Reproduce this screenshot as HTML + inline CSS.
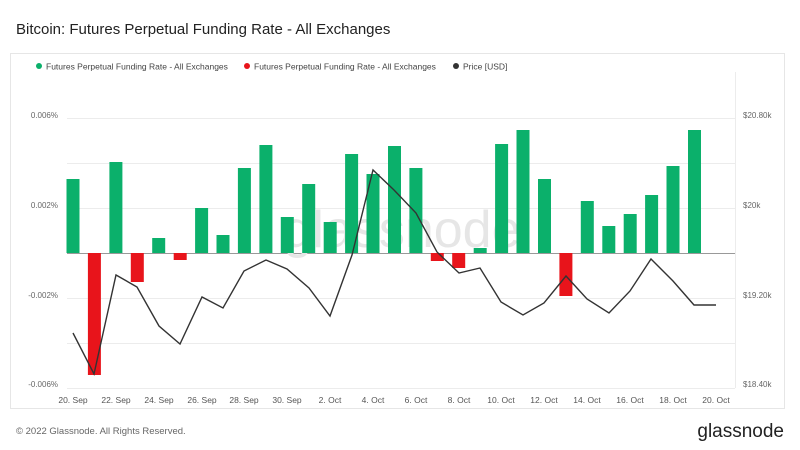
<!DOCTYPE html>
<html><head><meta charset="utf-8"><style>
body{margin:0;background:#fff;font-family:"Liberation Sans",sans-serif;}
</style></head><body>
<svg width="800" height="450" xmlns="http://www.w3.org/2000/svg" font-family="Liberation Sans, sans-serif" style="display:block">
<rect width="800" height="450" fill="#fff"/>
<text x="16" y="34" font-size="15" fill="#222">Bitcoin: Futures Perpetual Funding Rate - All Exchanges</text>
<rect x="10.5" y="53.5" width="774" height="355" fill="#fff" stroke="#e6e6e6"/>
<circle cx="39" cy="66" r="3" fill="#0bb06b"/><text x="46" y="69.5" font-size="8.5" fill="#444">Futures Perpetual Funding Rate - All Exchanges</text>
<circle cx="247" cy="66" r="3" fill="#e8141b"/><text x="254" y="69.5" font-size="8.5" fill="#444">Futures Perpetual Funding Rate - All Exchanges</text>
<circle cx="456" cy="66" r="3" fill="#333"/><text x="463" y="69.5" font-size="8.5" fill="#444">Price [USD]</text>
<g stroke="#ececec" stroke-width="1">
<line x1="67" y1="118.5" x2="735" y2="118.5"/><line x1="67" y1="163.5" x2="735" y2="163.5"/>
<line x1="67" y1="208.5" x2="735" y2="208.5"/><line x1="67" y1="298.5" x2="735" y2="298.5"/>
<line x1="67" y1="343.5" x2="735" y2="343.5"/><line x1="67" y1="388.5" x2="735" y2="388.5"/>
<line x1="735.5" y1="72" x2="735.5" y2="388"/>
</g>
<line x1="67" y1="253.5" x2="735" y2="253.5" stroke="#999"/>
<text x="402" y="247" font-size="52" fill="#e6e6e6" text-anchor="middle">glassnode</text>
<g font-size="8" fill="#666">
<text x="58" y="118" text-anchor="end">0.006%</text>
<text x="58" y="208" text-anchor="end">0.002%</text>
<text x="58" y="298" text-anchor="end">-0.002%</text>
<text x="58" y="387" text-anchor="end">-0.006%</text>
<text x="743" y="118">$20.80k</text>
<text x="743" y="208">$20k</text>
<text x="743" y="298">$19.20k</text>
<text x="743" y="387">$18.40k</text>
</g>
<g font-size="8.5" fill="#555" text-anchor="middle">
<text x="73" y="403">20. Sep</text><text x="116" y="403">22. Sep</text><text x="159" y="403">24. Sep</text><text x="202" y="403">26. Sep</text><text x="244" y="403">28. Sep</text><text x="287" y="403">30. Sep</text><text x="330" y="403">2. Oct</text><text x="373" y="403">4. Oct</text><text x="416" y="403">6. Oct</text><text x="459" y="403">8. Oct</text><text x="501" y="403">10. Oct</text><text x="544" y="403">12. Oct</text><text x="587" y="403">14. Oct</text><text x="630" y="403">16. Oct</text><text x="673" y="403">18. Oct</text><text x="716" y="403">20. Oct</text>
</g>
<g fill="#0bb06b">
<rect x="66.5" y="179" width="13" height="74"/>
<rect x="109.4" y="162" width="13" height="91"/>
<rect x="152.2" y="238" width="13" height="15"/>
<rect x="195.1" y="208" width="13" height="45"/>
<rect x="216.5" y="235" width="13" height="18"/>
<rect x="237.9" y="168" width="13" height="85"/>
<rect x="259.4" y="145" width="13" height="108"/>
<rect x="280.8" y="217" width="13" height="36"/>
<rect x="302.2" y="184" width="13" height="69"/>
<rect x="323.7" y="222" width="13" height="31"/>
<rect x="345.1" y="154" width="13" height="99"/>
<rect x="366.5" y="174" width="13" height="79"/>
<rect x="388.0" y="146" width="13" height="107"/>
<rect x="409.4" y="168" width="13" height="85"/>
<rect x="473.7" y="248" width="13" height="5"/>
<rect x="495.1" y="144" width="13" height="109"/>
<rect x="516.5" y="130" width="13" height="123"/>
<rect x="538.0" y="179" width="13" height="74"/>
<rect x="580.8" y="201" width="13" height="52"/>
<rect x="602.3" y="226" width="13" height="27"/>
<rect x="623.7" y="214" width="13" height="39"/>
<rect x="645.1" y="195" width="13" height="58"/>
<rect x="666.5" y="166" width="13" height="87"/>
<rect x="688.0" y="130" width="13" height="123"/>
</g>
<g fill="#e8141b">
<rect x="87.9" y="253" width="13" height="122"/>
<rect x="130.8" y="253" width="13" height="29"/>
<rect x="173.7" y="253" width="13" height="7"/>
<rect x="430.8" y="253" width="13" height="8"/>
<rect x="452.2" y="253" width="13" height="15"/>
<rect x="559.4" y="253" width="13" height="43"/>
</g>
<polyline fill="none" stroke="#333" stroke-width="1.4" points="73,333 94,374 116,275 137,287 159,326 180,344 202,297 223,308 244,271 266,260 287,269 309,288 330,316 352,255 373,170 394,190 416,213 437,252 459,273 480,268 501,302 523,315 544,303 566,276 587,299 609,313 630,291 651,259 673,281 694,305 716,305"/>
<text x="16" y="434" font-size="9.5" fill="#666">© 2022 Glassnode. All Rights Reserved.</text>
<text x="784" y="437" font-size="19" fill="#222" text-anchor="end">glassnode</text>
</svg>
</body></html>
